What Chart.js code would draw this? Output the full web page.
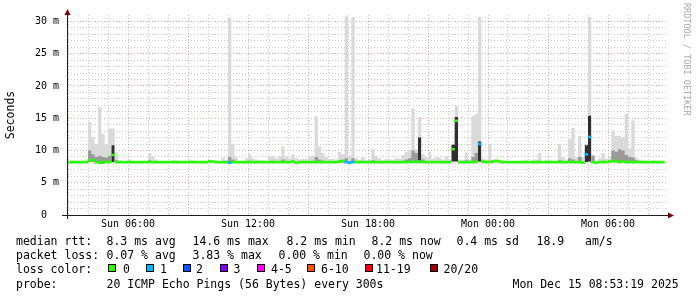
<!DOCTYPE html>
<html>
<head>
<meta charset="utf-8">
<script src="https://cdn.jsdelivr.net/npm/chart.js@4.4.1/dist/chart.umd.min.js"></script>
<style>
  body { margin: 0; background: #fff; }
  #wrap { position: relative; width: 697px; height: 297px; overflow: hidden; }
  #chart { position: absolute; left: 0; top: 0; }
  .t { position: absolute; font: 11.5px/14px 'DejaVu Sans Mono', monospace; color: #000; white-space: pre; }
  .box { position: absolute; top: 264px; width: 6px; height: 6px; border: 1px solid #000; }
  #mark { position: absolute; left: 692px; top: 3px; font: 8.5px/10px 'DejaVu Sans Mono', monospace; color: #a8a8a8; white-space: pre; transform: rotate(90deg); transform-origin: 0 0; }
</style>
</head>
<body>
<div id="wrap">
  <canvas id="chart" width="697" height="297"></canvas>

  <div class="t" style="left:16px;top:234px">median rtt:</div>
  <div class="t" style="left:106.5px;top:234px">8.3 ms avg</div>
  <div class="t" style="left:192.5px;top:234px">14.6 ms max</div>
  <div class="t" style="left:286.5px;top:234px">8.2 ms min</div>
  <div class="t" style="left:371.5px;top:234px">8.2 ms now</div>
  <div class="t" style="left:456.5px;top:234px">0.4 ms sd</div>
  <div class="t" style="left:536.5px;top:234px">18.9</div>
  <div class="t" style="left:585px;top:234px">am/s</div>

  <div class="t" style="left:16px;top:248px">packet loss:</div>
  <div class="t" style="left:106.5px;top:248px">0.07 % avg</div>
  <div class="t" style="left:192.5px;top:248px">3.83 % max</div>
  <div class="t" style="left:278.5px;top:248px">0.00 % min</div>
  <div class="t" style="left:363.5px;top:248px">0.00 % now</div>

  <div class="t" style="left:16px;top:262px">loss color:</div>
  <div class="box" style="left:108px;background:#26ff00"></div><div class="t" style="left:123px;top:262px">0</div>
  <div class="box" style="left:145.5px;background:#00b8ff"></div><div class="t" style="left:160px;top:262px">1</div>
  <div class="box" style="left:183px;background:#0059ff"></div><div class="t" style="left:196px;top:262px">2</div>
  <div class="box" style="left:220px;background:#7e00ff"></div><div class="t" style="left:233.5px;top:262px">3</div>
  <div class="box" style="left:257px;background:#ff00ff"></div><div class="t" style="left:271px;top:262px">4-5</div>
  <div class="box" style="left:306.5px;background:#ff5500"></div><div class="t" style="left:321px;top:262px">6-10</div>
  <div class="box" style="left:365px;background:#ff0000"></div><div class="t" style="left:376px;top:262px">11-19</div>
  <div class="box" style="left:430px;background:#a00000"></div><div class="t" style="left:443.5px;top:262px">20/20</div>

  <div class="t" style="left:16px;top:277px">probe:</div>
  <div class="t" style="left:106.5px;top:277px">20 ICMP Echo Pings (56 Bytes) every 300s</div>
  <div class="t" style="left:512.5px;top:277px">Mon Dec 15 08:53:19 2025</div>

  <div id="mark">RRDTOOL / TOBI OETIKER</div>
</div>
<script>
// sample times: Sun 03:00 onwards, one value every 10 minutes (hours since Sun 00:00)
const startHour = 3;
const stepHours = 1 / 6;

// median rtt in ms, one row per 3 hours
const median = [
  8.2,8.2,8.2,8.2,8.2,8.2,8.5,8.5,8.2,8.1,8.1,8.3,8.2,9.3,8.2,8.2,8.2,8.2,   // Sun 03:00
  8.2,8.2,8.2,8.2,8.2,8.2,8.2,8.2,8.2,8.2,8.2,8.2,8.2,8.2,8.2,8.2,8.2,8.2,   // Sun 06:00
  8.2,8.2,8.2,8.2,8.2,8.2,8.3,8.3,8.2,8.2,8.2,8.2,8.1,8.2,8.2,8.2,8.2,8.2,   // Sun 09:00
  8.2,8.2,8.2,8.2,8.2,8.2,8.2,8.2,8.2,8.2,8.2,8.2,8.2,8.3,8.1,8.2,8.2,8.2,   // Sun 12:00
  8.2,8.2,8.2,8.2,8.2,8.2,8.2,8.2,8.2,8.3,8.4,8.2,8.1,8.2,8.2,8.2,8.2,8.2,   // Sun 15:00
  8.2,8.2,8.2,8.2,8.2,8.2,8.2,8.2,8.2,8.2,8.2,8.2,8.2,8.3,8.2,8.3,8.2,8.2,   // Sun 18:00
  8.2,8.2,8.2,8.2,8.2,8.2,8.2,10.2,14.6,8.2,8.2,8.2,8.2,8.2,8.3,11.0,8.3,8.2, // Sun 21:00
  8.2,8.3,8.4,8.3,8.2,8.2,8.2,8.2,8.2,8.2,8.2,8.2,8.2,8.2,8.2,8.2,8.2,8.2,   // Mon 00:00
  8.2,8.2,8.2,8.2,8.2,8.2,8.2,8.2,8.2,8.2,8.1,9.4,12.1,8.2,8.1,8.2,8.2,8.2,  // Mon 03:00
  8.3,8.4,8.3,8.2,8.3,8.2,8.2,8.2,8.2,8.2,8.2,8.2,8.2,8.2,8.2,8.2,8.2        // Mon 06:00
];

// lost pings out of 20
const loss = [
  0,0,0,0,0,0,0,0,0,0,0,0,0,0,0,0,0,0,
  0,0,0,0,0,0,0,0,0,0,0,0,0,0,0,0,0,0,
  0,0,0,0,0,0,0,0,0,0,0,0,1,0,0,0,0,0,
  0,0,0,0,0,0,0,0,0,0,0,0,0,0,0,0,0,0,
  0,0,0,0,0,0,0,0,0,0,0,1,1,1,0,0,0,0,
  0,0,0,0,0,0,0,0,0,0,0,0,0,0,0,0,0,0,
  0,0,0,0,0,0,0,0,0,0,0,0,0,0,0,1,0,0,
  0,0,0,0,0,0,0,0,0,0,0,0,0,0,0,0,0,0,
  0,0,0,0,0,0,0,0,0,0,0,1,1,0,0,0,0,0,
  0,0,0,0,0,0,0,0,0,0,0,0,0,0,0,0,0
];

// smoke: slowest ping, inner (dense) part, fastest ping
const smokeMax = [
  8.4,8.5,8.4,8.4,8.4,8.5,14.4,12.1,11.0,16.7,12.6,11.0,13.4,13.4,9.7,8.5,8.4,8.4,
  8.6,8.4,8.3,8.3,8.4,8.3,9.6,9.0,8.6,8.3,8.3,8.3,8.3,8.5,8.5,8.3,8.3,8.3,
  8.5,8.5,8.4,8.4,8.4,8.4,8.3,8.3,8.3,8.3,8.9,8.6,30.6,11.0,9.0,8.4,8.3,8.8,
  9.4,8.8,8.6,8.5,8.5,8.4,9.0,9.2,8.8,9.1,10.6,9.0,8.8,9.4,8.8,8.6,8.7,8.7,
  9.2,9.2,15.3,10.6,9.6,9.0,8.7,8.7,8.6,9.8,9.4,30.8,9.2,30.7,8.8,8.6,9.0,8.5,
  8.6,10.2,9.2,8.8,8.5,8.7,8.6,8.6,8.8,8.8,9.3,9.8,10.0,16.5,10.2,15.2,9.5,9.0,
  9.8,8.7,8.9,8.9,8.6,9.1,8.6,11.0,16.9,8.6,8.5,9.7,8.6,15.3,15.6,30.7,8.8,8.6,
  11.0,8.6,8.5,8.4,8.3,8.3,8.3,8.3,8.3,8.3,8.5,8.6,8.3,8.6,8.6,9.6,8.4,8.5,
  8.5,8.4,8.4,11.0,9.0,8.6,11.8,13.5,9.0,12.3,9.0,11.0,30.7,9.3,8.5,8.8,9.6,8.7,
  9.0,13.1,12.3,12.3,12.0,15.7,10.3,14.7,8.9,8.6,8.5,8.4,8.4,8.5,8.4,8.4,8.4
];
const smokeMid = [
  8.1,8.1,8.1,8.1,8.1,8.2,10.0,9.4,9.0,9.2,9.0,8.9,9.2,10.8,8.5,8.1,8.1,8.1,
  8.1,8.1,8.1,8.1,8.1,8.1,8.5,8.3,8.1,8.1,8.1,8.1,8.1,8.1,8.1,8.1,8.1,8.1,
  8.1,8.1,8.1,8.1,8.1,8.1,8.1,8.1,8.1,8.1,8.3,8.2,9.0,8.6,8.3,8.1,8.1,8.2,
  8.4,8.2,8.1,8.1,8.1,8.1,8.3,8.4,8.2,8.3,8.6,8.3,8.2,8.4,8.2,8.1,8.2,8.2,
  8.3,8.3,9.0,8.6,8.4,8.3,8.2,8.2,8.1,8.5,8.4,8.8,8.3,8.8,8.2,8.1,8.2,8.1,
  8.1,8.5,8.3,8.2,8.1,8.2,8.1,8.1,8.2,8.2,8.4,8.6,8.8,10.0,9.6,12.0,8.6,8.3,
  8.3,8.1,8.2,8.2,8.1,8.3,8.1,10.9,15.2,8.1,8.1,8.5,8.1,9.0,9.6,11.4,8.2,8.1,
  8.4,8.1,8.1,8.1,8.1,8.1,8.1,8.1,8.1,8.1,8.1,8.2,8.1,8.2,8.2,8.4,8.1,8.1,
  8.1,8.1,8.1,8.5,8.3,8.1,8.8,8.6,8.3,9.0,8.3,10.8,15.4,9.2,8.1,8.3,8.4,8.2,
  8.4,10.0,9.8,10.2,10.0,9.3,9.0,8.9,8.5,8.2,8.1,8.1,8.1,8.2,8.1,8.1,8.1
];
const smokeMin = [
  8.1,8.1,8.1,8.1,8.1,8.1,8.2,8.2,8.1,8.0,8.0,8.1,8.1,8.2,8.1,8.1,8.1,8.1,
  8.1,8.1,8.1,8.1,8.1,8.1,8.1,8.1,8.1,8.1,8.1,8.1,8.1,8.1,8.1,8.1,8.1,8.1,
  8.1,8.1,8.1,8.1,8.1,8.1,8.1,8.1,8.1,8.1,8.1,8.1,8.0,8.1,8.1,8.1,8.1,8.1,
  8.1,8.1,8.1,8.1,8.1,8.1,8.1,8.1,8.1,8.1,8.1,8.1,8.1,8.1,8.1,8.1,8.1,8.1,
  8.1,8.1,8.1,8.1,8.1,8.1,8.1,8.1,8.1,8.1,8.1,8.1,8.0,8.1,8.1,8.1,8.1,8.1,
  8.1,8.1,8.1,8.1,8.1,8.1,8.1,8.1,8.1,8.1,8.1,8.1,8.1,8.1,8.1,8.1,8.1,8.1,
  8.1,8.1,8.1,8.1,8.1,8.1,8.1,8.3,8.3,8.1,8.1,8.1,8.1,8.1,8.1,8.3,8.1,8.1,
  8.1,8.1,8.1,8.1,8.1,8.1,8.1,8.1,8.1,8.1,8.1,8.1,8.1,8.1,8.1,8.1,8.1,8.1,
  8.1,8.1,8.1,8.1,8.1,8.1,8.1,8.1,8.1,8.1,8.0,8.2,8.3,8.1,8.1,8.1,8.1,8.1,
  8.1,8.2,8.2,8.2,8.2,8.2,8.2,8.1,8.1,8.1,8.1,8.1,8.1,8.1,8.1,8.1,8.1
];

const timeTicks = [6, 12, 18, 24, 30];
const timeTickLabels = ['Sun 06:00', 'Sun 12:00', 'Sun 18:00', 'Mon 00:00', 'Mon 06:00'];
const rttTicks = [0, 5, 10, 15, 20, 25, 30];
const rttTickLabels = ['0  ', '5 m', '10 m', '15 m', '20 m', '25 m', '30 m'];

// 0, 1, 2, 3, 4-5, 6-10, 11-19, 20/20
const lossColors = ['#26ff00', '#00b8ff', '#0059ff', '#7e00ff', '#ff00ff', '#ff5500', '#ff0000', '#a00000'];

const hours = median.map((_, i) => startHour + i * stepHours);

function lossColor(n) {
  if (n <= 3) return lossColors[n];
  if (n <= 5) return lossColors[4];
  if (n <= 10) return lossColors[5];
  if (n <= 19) return lossColors[6];
  return lossColors[7];
}

const gridMinor = 'rgba(140,140,140,0.45)';
const gridMajor = 'rgba(215,50,50,0.42)';

// axis lines with the little red arrows
const axesPlugin = {
  id: 'axes',
  afterDraw(chart) {
    const { ctx, chartArea: a } = chart;
    const y0 = a.bottom + 0.5, x0 = a.left - 0.5;
    ctx.save();
    ctx.strokeStyle = '#1f1f1f';
    ctx.lineWidth = 1;
    ctx.beginPath();
    ctx.moveTo(62, y0); ctx.lineTo(a.right + 2, y0);
    ctx.moveTo(x0, a.bottom + 4); ctx.lineTo(x0, a.top);
    ctx.stroke();
    ctx.fillStyle = '#7f0000';
    ctx.beginPath();
    ctx.moveTo(a.right, y0 - 3); ctx.lineTo(a.right + 6, y0); ctx.lineTo(a.right, y0 + 3);
    ctx.closePath(); ctx.fill();
    ctx.beginPath();
    ctx.moveTo(x0 - 3, a.top); ctx.lineTo(x0, a.top - 6); ctx.lineTo(x0 + 3, a.top);
    ctx.closePath(); ctx.fill();
    ctx.restore();
  }
};

new Chart(document.getElementById('chart'), {
  type: 'line',
  data: {
    labels: hours,
    datasets: [{
      // median drawn as one short dash per sample, coloured by loss
      label: 'median rtt',
      data: median.map((v, i) => ({ x: hours[i] + stepHours / 2, y: v })),
      showLine: false,
      pointStyle: 'line',
      pointRadius: 1.8,
      pointBorderWidth: 2.6,
      pointBorderColor: c => lossColor(loss[c.dataIndex]),
      pointBackgroundColor: c => lossColor(loss[c.dataIndex]),
      fill: false
    }, {
      label: 'smoke inner',
      data: smokeMid,
      stepped: 'before',
      borderWidth: 0,
      borderColor: 'transparent',
      pointRadius: 0,
      fill: 3,
      backgroundColor: '#9a9a9a',
      segment: {
        backgroundColor: c => (smokeMid[c.p0DataIndex] - smokeMin[c.p0DataIndex] > 2.5 ? '#2e2e2e' : '#9a9a9a')
      }
    }, {
      label: 'smoke',
      data: smokeMax,
      stepped: 'before',
      borderWidth: 0,
      borderColor: 'transparent',
      pointRadius: 0,
      fill: 3,
      backgroundColor: '#dadada'
    }, {
      label: 'smoke low',
      data: smokeMin,
      stepped: 'before',
      borderWidth: 0,
      borderColor: 'transparent',
      pointRadius: 0,
      fill: false
    }]
  },
  options: {
    responsive: false,
    animation: false,
    events: [],
    layout: { padding: { left: 0, right: 29, top: 13, bottom: 62 } },
    plugins: { legend: { display: false }, tooltip: { enabled: false } },
    scales: {
      x: {
        type: 'linear',
        min: 3,
        max: 33,
        ticks: {
          stepSize: 1,
          autoSkip: false,
          maxRotation: 0,
          padding: 3,
          color: '#000',
          font: { family: 'DejaVu Sans Mono', size: 10 },
          callback: v => {
            const i = timeTicks.indexOf(v);
            return i >= 0 ? timeTickLabels[i] : '';
          }
        },
        grid: {
          drawTicks: false,
          lineWidth: 1,
          color: c => {
            if (!c.tick || c.tick.value >= 33) return 'transparent';
            return c.tick.value % 3 === 0 ? gridMajor : gridMinor;
          }
        },
        border: { display: false, dash: [1, 2] },
        afterFit: s => { s.height = 20; }
      },
      y: {
        min: 0,
        max: 31,
        ticks: {
          stepSize: 1,
          autoSkip: false,
          padding: 9,
          color: '#000',
          font: { family: 'DejaVu Sans Mono', size: 10 },
          callback: v => {
            const i = rttTicks.indexOf(v);
            return i >= 0 ? rttTickLabels[i] : '';
          }
        },
        grid: {
          drawTicks: false,
          lineWidth: 1,
          color: c => {
            if (!c.tick || c.tick.value === 0 || c.tick.value >= 31) return 'transparent';
            return c.tick.value % 5 === 0 ? gridMajor : gridMinor;
          }
        },
        border: { display: false, dash: [1, 2] },
        title: {
          display: true,
          text: 'Seconds',
          color: '#000',
          font: { family: 'DejaVu Sans Mono', size: 11.5 },
          padding: { top: 4, bottom: 0 }
        },
        afterFit: s => { s.width = 68; }
      }
    }
  },
  plugins: [axesPlugin]
});
</script>
</body>
</html>
